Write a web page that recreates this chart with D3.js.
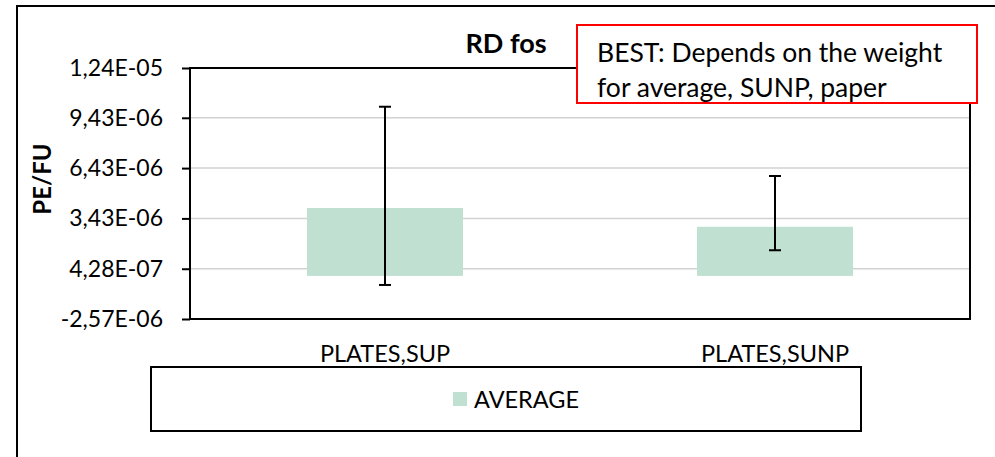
<!DOCTYPE html>
<html lang="en">

<head>
    <meta charset="UTF-8">
    <title>RD fos</title>
    <style>
        body {
            margin: 0;
            background: #fff;
        }
        svg {
            display: block;
            font-family: Lato, "Open Sans", sans-serif;
        }
    </style>
</head>

<body>
    <script src="https://cdn.jsdelivr.net/npm/d3@7"></script>
    <script>
        // données
        const categories = ['PLATES,SUP', 'PLATES,SUNP']
        const moyennes = [4.05e-6, 2.93e-6]
        const erreurHaute = [1.009e-5, 5.96e-6]
        const erreurBasse = [-5.4e-7, 1.53e-6]
        const ticksY = [-2.57e-6, 4.28e-7, 3.43e-6, 6.43e-6, 9.43e-6, 1.24e-5]
        const nomSerie = 'AVERAGE'
        const titre = 'RD fos'
        const titreY = 'PE/FU'
        const note = ['BEST: Depends on the weight', 'for average, SUNP, paper']

        const largeur = 995
        const hauteur = 457
        const zone = { gauche: 190, droite: 970, haut: 68, bas: 319 }

        const canevas = d3.select('body')
            .append('svg')
            .attr('width', largeur)
            .attr('height', hauteur)

        // cadre extérieur
        canevas.append('rect')
            .attr('x', 17).attr('y', 6)
            .attr('width', 1000).attr('height', 500)
            .attr('fill', '#fff')
            .attr('stroke', '#000')
            .attr('stroke-width', 2)

        // échelles
        const echelleX = d3.scaleBand()
            .domain(categories)
            .range([zone.gauche, zone.droite])
            .paddingInner(0.6)
            .paddingOuter(0.3)

        const echelleY = d3.scaleLinear()
            .domain(d3.extent(ticksY))
            .range([zone.bas, zone.haut])

        // format 1,24E-05
        const formatSci = v => {
            const [m, e] = v.toExponential(2).split('e')
            const exp = Math.abs(+e).toString().padStart(2, '0')
            return m.replace('.', ',') + 'E' + (+e < 0 ? '-' : '+') + exp
        }

        // grille
        canevas.append('g').selectAll('line')
            .data(ticksY)
            .enter()
            .append('line')
                .attr('x1', zone.gauche)
                .attr('x2', zone.droite)
                .attr('y1', d => echelleY(d))
                .attr('y2', d => echelleY(d))
                .attr('stroke', '#d2d2d2')
                .attr('stroke-width', 1.5)

        // barres
        canevas.append('g').selectAll('rect')
            .data(moyennes)
            .enter()
            .append('rect')
                .attr('x', (d, i) => echelleX(categories[i]))
                .attr('width', echelleX.bandwidth())
                .attr('y', d => echelleY(Math.max(0, d)))
                .attr('height', d => Math.abs(echelleY(d) - echelleY(0)))
                .attr('fill', '#c0e1d2')

        // barres d'erreur
        const erreurs = canevas.append('g')
            .attr('stroke', '#000')
            .attr('stroke-width', 2)
        categories.forEach((c, i) => {
            const cx = echelleX(c) + echelleX.bandwidth() / 2
            erreurs.append('line')
                .attr('x1', cx).attr('x2', cx)
                .attr('y1', echelleY(erreurHaute[i]))
                .attr('y2', echelleY(erreurBasse[i]))
            ;[erreurHaute[i], erreurBasse[i]].forEach(v => {
                erreurs.append('line')
                    .attr('x1', cx - 6).attr('x2', cx + 6)
                    .attr('y1', echelleY(v)).attr('y2', echelleY(v))
            })
        })

        // cadre de la zone de tracé
        canevas.append('rect')
            .attr('x', zone.gauche).attr('y', zone.haut)
            .attr('width', zone.droite - zone.gauche)
            .attr('height', zone.bas - zone.haut)
            .attr('fill', 'none')
            .attr('stroke', '#000')
            .attr('stroke-width', 2)

        // axe vertical
        const axeY = d3.axisLeft(echelleY)
            .tickValues(ticksY)
            .tickFormat(formatSci)
            .tickSize(8)
            .tickPadding(19)

        canevas.append('g')
            .attr('transform', `translate(${zone.gauche},0)`)
            .call(axeY)
            .call(g => g.select('.domain').remove())
            .call(g => g.selectAll('line').attr('stroke', '#000').attr('stroke-width', 2))
            .call(g => g.selectAll('text')
                .attr('font-family', 'Lato, sans-serif')
                .attr('font-size', 23)
                .attr('fill', '#000'))

        // étiquettes des catégories
        canevas.append('g').selectAll('text')
            .data(categories)
            .enter()
            .append('text')
                .attr('x', d => echelleX(d) + echelleX.bandwidth() / 2)
                .attr('y', 362)
                .attr('text-anchor', 'middle')
                .attr('font-size', 23.5)
                .text(d => d)

        // titre
        canevas.append('text')
            .attr('x', 506).attr('y', 53)
            .attr('text-anchor', 'middle')
            .attr('font-size', 27)
            .attr('font-weight', 'bold')
            .text(titre)

        // titre de l'axe Y
        canevas.append('text')
            .attr('transform', 'translate(51,179) rotate(-90)')
            .attr('text-anchor', 'middle')
            .attr('font-size', 24)
            .attr('font-weight', 'bold')
            .text(titreY)

        // légende
        const legende = canevas.append('g')
        legende.append('rect')
            .attr('x', 151).attr('y', 367)
            .attr('width', 710).attr('height', 64)
            .attr('fill', '#fff')
            .attr('stroke', '#000')
            .attr('stroke-width', 2)
        legende.append('rect')
            .attr('x', 453).attr('y', 392)
            .attr('width', 14).attr('height', 14)
            .attr('fill', '#c0e1d2')
        legende.append('text')
            .attr('x', 474).attr('y', 408)
            .attr('font-size', 23.5)
            .text(nomSerie)

        // note encadrée en rouge
        const boite = canevas.append('g')
        boite.append('rect')
            .attr('x', 577).attr('y', 25)
            .attr('width', 400).attr('height', 78)
            .attr('fill', '#fff')
            .attr('stroke', '#ff0000')
            .attr('stroke-width', 2)
        boite.selectAll('text')
            .data(note)
            .enter()
            .append('text')
                .attr('x', 597)
                .attr('y', (d, i) => 62 + i * 35)
                .attr('font-size', 26.5)
                .text(d => d)
    </script>
</body>

</html>
